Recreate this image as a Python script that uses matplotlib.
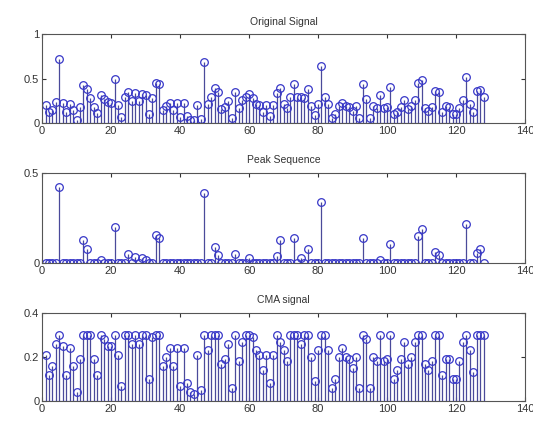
import numpy as np
import matplotlib.pyplot as plt

n = np.arange(1, 129)

original = [0.20, 0.12, 0.15, 0.24, 0.72, 0.23, 0.12, 0.22, 0.15, 0.04,
            0.18, 0.43, 0.38, 0.28, 0.18, 0.11, 0.32, 0.27, 0.24, 0.23,
            0.50, 0.20, 0.07, 0.29, 0.35, 0.25, 0.335, 0.25, 0.33, 0.32,
            0.10, 0.28, 0.455, 0.44, 0.15, 0.19, 0.23, 0.15, 0.23, 0.07,
            0.23, 0.08, 0.04, 0.03, 0.20, 0.05, 0.69, 0.22, 0.29, 0.39,
            0.345, 0.16, 0.18, 0.25, 0.06, 0.35, 0.17, 0.26, 0.29, 0.33,
            0.28, 0.22, 0.20, 0.13, 0.20, 0.08, 0.20, 0.34, 0.40, 0.22,
            0.17, 0.29, 0.44, 0.29, 0.29, 0.28, 0.38, 0.19, 0.09, 0.22,
            0.64, 0.29, 0.22, 0.06, 0.10, 0.19, 0.23, 0.19, 0.18, 0.14,
            0.19, 0.06, 0.44, 0.27, 0.06, 0.19, 0.17, 0.32, 0.17, 0.18,
            0.405, 0.10, 0.13, 0.18, 0.26, 0.16, 0.19, 0.26, 0.45, 0.49,
            0.17, 0.14, 0.18, 0.36, 0.345, 0.12, 0.19, 0.18, 0.10, 0.10,
            0.17, 0.26, 0.515, 0.22, 0.13, 0.357, 0.377, 0.29]

peak = [0, 0, 0, 0, 0.42, 0, 0, 0, 0, 0,
        0, 0.13, 0.08, 0, 0, 0, 0.02, 0, 0, 0,
        0.20, 0, 0, 0, 0.05, 0, 0.035, 0, 0.03, 0.02,
        0, 0, 0.155, 0.14, 0, 0, 0, 0, 0, 0,
        0, 0, 0, 0, 0, 0, 0.39, 0, 0, 0.09,
        0.045, 0, 0, 0, 0, 0.05, 0, 0, 0, 0.03,
        0, 0, 0, 0, 0, 0, 0, 0.04, 0.13, 0,
        0, 0, 0.14, 0, 0.03, 0, 0.08, 0, 0, 0,
        0.34, 0, 0, 0, 0, 0, 0, 0, 0, 0,
        0, 0, 0.14, 0, 0, 0, 0, 0.02, 0, 0,
        0.105, 0, 0, 0, 0, 0, 0, 0, 0.15, 0.19,
        0, 0, 0, 0.06, 0.045, 0, 0, 0, 0, 0,
        0, 0, 0.215, 0, 0, 0.057, 0.077, 0]

cma = [0.21, 0.12, 0.16, 0.26, 0.30, 0.25, 0.12, 0.24, 0.16, 0.04,
       0.19, 0.30, 0.30, 0.30, 0.19, 0.12, 0.30, 0.28, 0.25, 0.25,
       0.30, 0.21, 0.07, 0.30, 0.30, 0.26, 0.30, 0.26, 0.30, 0.30,
       0.10, 0.29, 0.30, 0.30, 0.16, 0.20, 0.24, 0.16, 0.24, 0.07,
       0.24, 0.08, 0.04, 0.03, 0.21, 0.05, 0.30, 0.23, 0.30, 0.30,
       0.30, 0.17, 0.19, 0.26, 0.06, 0.30, 0.18, 0.27, 0.30, 0.30,
       0.29, 0.23, 0.21, 0.14, 0.21, 0.08, 0.21, 0.30, 0.27, 0.23,
       0.18, 0.30, 0.30, 0.30, 0.26, 0.30, 0.30, 0.20, 0.09, 0.23,
       0.30, 0.30, 0.23, 0.06, 0.10, 0.20, 0.24, 0.20, 0.19, 0.15,
       0.20, 0.06, 0.30, 0.28, 0.06, 0.20, 0.18, 0.30, 0.18, 0.19,
       0.30, 0.10, 0.14, 0.19, 0.27, 0.17, 0.20, 0.27, 0.30, 0.30,
       0.17, 0.14, 0.18, 0.30, 0.30, 0.12, 0.19, 0.19, 0.10, 0.10,
       0.18, 0.27, 0.30, 0.23, 0.13, 0.30, 0.30, 0.30]

titles = ["Original Signal", "Peak Sequence", "CMA signal"]
series = [original, peak, cma]
ylims = [(0, 1), (0, 0.5), (0, 0.4)]
yticks = [[0, 0.5, 1], [0, 0.5], [0, 0.2, 0.4]]
ytlabels = [["0", "0.5", "1"], ["0", "0.5"], ["0", "0.2", "0.4"]]

plt.rcParams['font.family'] = ['Liberation Sans', 'DejaVu Sans']

fig = plt.figure(figsize=(5.33, 4.23), dpi=100)
positions = [[0.079, 0.709, 0.906, 0.210],
             [0.079, 0.378, 0.906, 0.213],
             [0.079, 0.052, 0.906, 0.208]]

for pos, title, y, yl, yt, ytl in zip(positions, titles, series, ylims, yticks, ytlabels):
    ax = fig.add_axes(pos)
    markers, stems, base = ax.stem(n, y, linefmt='-', markerfmt='o', basefmt='b-')
    plt.setp(stems, color='#4a4a9a', linewidth=0.9)
    plt.setp(markers, markerfacecolor='none', markeredgecolor='#3838c8',
             markersize=5.5, markeredgewidth=0.9)
    plt.setp(base, color='#2020c0', linewidth=0.8)
    ax.set_xlim(0, 140)
    ax.set_ylim(*yl)
    ax.set_xticks(range(0, 141, 20))
    ax.set_yticks(yt)
    ax.set_yticklabels(ytl)
    ax.tick_params(direction='in', top=True, right=True, labelsize=8,
                   length=3, pad=2, colors='#333333')
    for s in ax.spines.values():
        s.set_color('#555555')
        s.set_linewidth(0.8)
    ax.set_title(title, fontsize=7.5, pad=7, color='#333333')

fig.savefig('out.png', dpi=100)
